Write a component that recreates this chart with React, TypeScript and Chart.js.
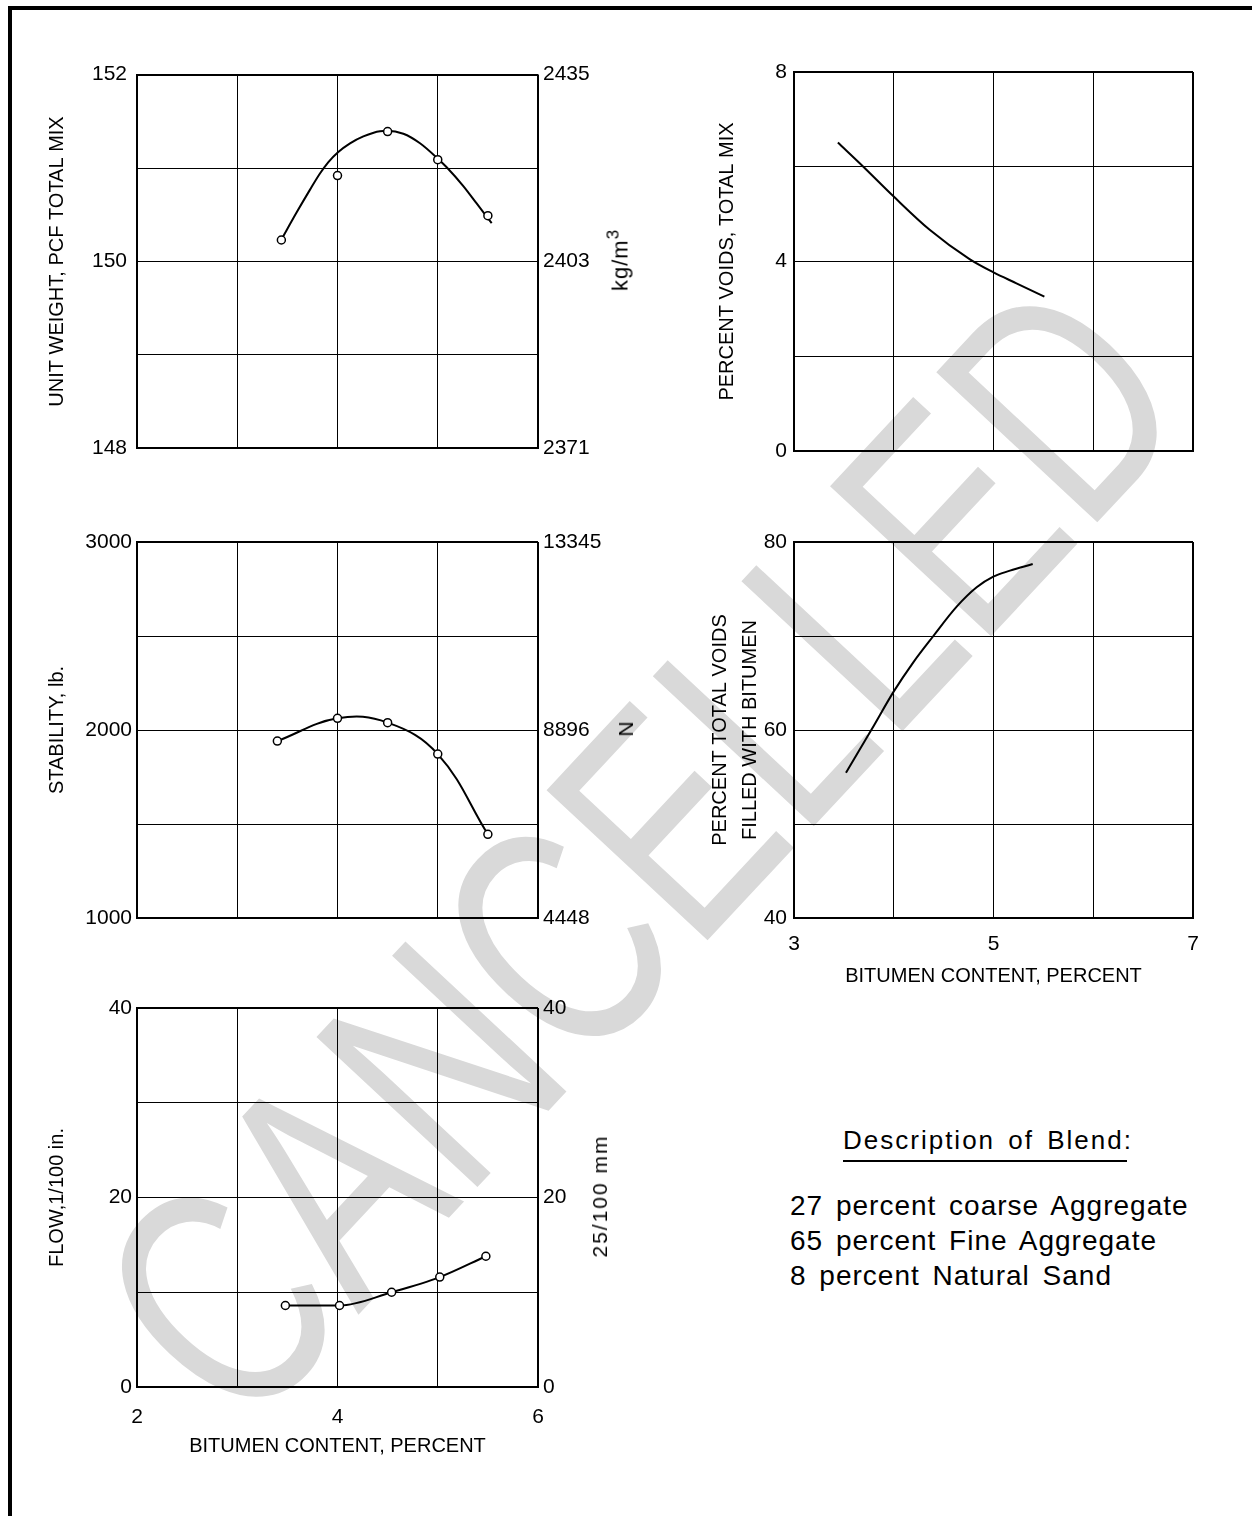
import React, { useEffect, useRef } from 'react';
import { Chart, registerables } from 'chart.js';

Chart.register(...registerables);

const FONT = "'Liberation Sans', Arial, Helvetica, sans-serif";

// ---------- bitumen content (x) axes ----------
const xTicksLeft = [2, 3, 4, 5, 6];
const xLabelsLeft = ['2', '', '4', '', '6'];
const xTicksRight = [3, 4, 5, 6, 7];
const xLabelsRight = ['3', '', '5', '', '7'];

// ---------- unit weight ----------
const unitWeightTicks = [148, 149, 150, 151, 152];
const unitWeightLabels = ['148', '', '150', '', '152'];
const unitWeightMetricTicks = [2371, 2403, 2435];
const unitWeightPtsX = [3.44, 4.0, 4.5, 5.0, 5.5];
const unitWeightPtsY = [150.23, 150.92, 151.39, 151.09, 150.49];
const unitWeightCurveX = [3.44, 3.593, 3.726, 3.825, 3.909, 4.005, 4.125, 4.258, 4.424, 4.49, 4.657, 4.823, 5.012, 5.089, 5.255, 5.388, 5.538];
const unitWeightCurveY = [150.234, 150.526, 150.769, 150.941, 151.064, 151.17, 151.265, 151.339, 151.395, 151.398, 151.367, 151.265, 151.089, 151.008, 150.807, 150.621, 150.41];

// ---------- stability ----------
const stabilityTicks = [1000, 1500, 2000, 2500, 3000];
const stabilityLabels = ['1000', '', '2000', '', '3000'];
const stabilityMetricTicks = [4448, 8896, 13345];
const stabilityX = [3.4, 4.0, 4.5, 5.0, 5.5];
const stabilityY = [1941, 2062, 2039, 1872, 1445];

// ---------- flow ----------
const flowTicks = [0, 10, 20, 30, 40];
const flowLabels = ['0', '', '20', '', '40'];
const flowMetricTicks = [0, 20, 40];
const flowX = [3.48, 4.02, 4.54, 5.02, 5.48];
const flowY = [8.6, 8.6, 10.0, 11.6, 13.8];

// ---------- percent voids ----------
const voidsTicks = [0, 2, 4, 6, 8];
const voidsLabels = ['0', '', '4', '', '8'];
const voidsCurveX = [3.44, 3.7, 4.0, 4.36, 4.76, 5.0, 5.23, 5.51];
const voidsCurveY = [6.51, 5.99, 5.37, 4.67, 4.05, 3.77, 3.54, 3.26];

// ---------- voids filled with bitumen ----------
const vfbTicks = [40, 50, 60, 70, 80];
const vfbLabels = ['40', '', '60', '', '80'];
const vfbCurveX = [3.521, 3.779, 3.999, 4.196, 4.397, 4.631, 4.831, 4.998, 5.165, 5.393];
const vfbCurveY = [55.46, 60.07, 64.08, 67.2, 70.0, 73.12, 75.18, 76.31, 76.95, 77.66];

const blendLines = ['27 percent coarse Aggregate', '65 percent Fine Aggregate', '8 percent Natural Sand'];

const zip = (xs: number[], ys: number[]) => xs.map((x, i) => ({ x, y: ys[i] }));

const curveDs = (xs: number[], ys: number[]) => ({
  data: zip(xs, ys),
  showLine: true,
  borderColor: '#000',
  borderWidth: 2,
  pointRadius: 0,
  cubicInterpolationMode: 'monotone',
  fill: false,
  yAxisID: 'y',
});

const pointDs = (xs: number[], ys: number[], line: boolean, extra: any = {}) => ({
  data: zip(xs, ys),
  showLine: line,
  borderColor: '#000',
  borderWidth: 2,
  pointRadius: 4,
  pointBorderWidth: 1.5,
  pointBackgroundColor: '#fff',
  pointBorderColor: '#000',
  tension: 0.4,
  fill: false,
  yAxisID: 'y',
  ...extra,
});

type Spec = {
  l: number; t: number; w: number; h: number;
  AL: number; AR: number; PT: number; AB: number; PB: number;
  xTicks: number[]; xLabels: string[]; showX: boolean; xTickPad?: number; xTitle?: string; xTitlePadB?: number;
  yTicks: number[]; yLabels: string[]; yTickPad: number; yTitle: string | string[]; yTitlePadT: number; yTitleLH?: number;
  rTicks?: number[]; rTickPad?: number;
  datasets: any[];
};

const edgeWidth = (n: number) => (c: any) => (c.index === 0 || c.index === n - 1 ? 2 : 1);

function buildConfig(s: Spec): any {
  const tickFont = { family: FONT, size: 21 };
  const titleFont = { family: FONT, size: 20, lineHeight: s.yTitleLH ?? 1.2 };
  const scales: any = {
    x: {
      type: 'linear',
      position: 'bottom',
      min: s.xTicks[0],
      max: s.xTicks[s.xTicks.length - 1],
      afterBuildTicks: (a: any) => { a.ticks = s.xTicks.map((v) => ({ value: v })); },
      afterFit: (a: any) => { a.height = s.AB; },
      grid: { color: '#000', lineWidth: edgeWidth(s.xTicks.length), drawTicks: false },
      border: { display: true, color: '#000', width: 2 },
      ticks: {
        display: s.showX,
        padding: s.xTickPad ?? 0,
        font: tickFont,
        color: '#000',
        autoSkip: false,
        maxRotation: 0,
        callback: (_v: any, i: number) => s.xLabels[i] ?? '',
      },
      title: s.xTitle
        ? { display: true, text: s.xTitle, color: '#000', font: { family: FONT, size: 20, lineHeight: 1.2 }, padding: { top: 0, bottom: s.xTitlePadB ?? 0 } }
        : { display: false },
    },
    y: {
      type: 'linear',
      position: 'left',
      min: s.yTicks[0],
      max: s.yTicks[s.yTicks.length - 1],
      afterBuildTicks: (a: any) => { a.ticks = s.yTicks.map((v) => ({ value: v })); },
      afterFit: (a: any) => { a.width = s.AL; },
      grid: { color: '#000', lineWidth: edgeWidth(s.yTicks.length), drawTicks: false },
      border: { display: true, color: '#000', width: 2 },
      ticks: {
        padding: s.yTickPad,
        font: tickFont,
        color: '#000',
        autoSkip: false,
        callback: (_v: any, i: number) => s.yLabels[i] ?? '',
      },
      title: { display: true, text: s.yTitle, color: '#000', font: titleFont, padding: { top: s.yTitlePadT, bottom: 0 } },
    },
  };
  if (s.rTicks) {
    const rt = s.rTicks;
    scales.y1 = {
      type: 'linear',
      position: 'right',
      min: rt[0],
      max: rt[rt.length - 1],
      afterBuildTicks: (a: any) => { a.ticks = rt.map((v) => ({ value: v })); },
      afterFit: (a: any) => { a.width = s.AR; },
      grid: { display: false, drawTicks: false },
      border: { display: false },
      ticks: {
        padding: s.rTickPad ?? 5,
        font: tickFont,
        color: '#000',
        autoSkip: false,
        callback: (v: any) => String(v),
      },
    };
  }
  return {
    type: 'scatter',
    data: { datasets: s.datasets },
    options: {
      responsive: false,
      maintainAspectRatio: false,
      animation: false,
      events: [],
      layout: { padding: { top: s.PT, bottom: s.PB, left: 0, right: s.rTicks ? 0 : s.AR } },
      plugins: { legend: { display: false }, tooltip: { enabled: false }, title: { display: false } },
      scales,
    },
  };
}

function Panel({ spec }: { spec: Spec }) {
  const ref = useRef<HTMLCanvasElement | null>(null);
  const W = spec.AL + spec.w + spec.AR;
  const H = spec.PT + spec.h + spec.AB + spec.PB;
  useEffect(() => {
    if (!ref.current) return;
    const chart = new Chart(ref.current, buildConfig(spec));
    return () => chart.destroy();
  }, []);
  return (
    <canvas
      ref={ref}
      width={W}
      height={H}
      style={{ position: 'absolute', left: spec.l - spec.AL, top: spec.t - spec.PT, width: W, height: H, zIndex: 1 }}
    />
  );
}

const specUnitWeight: Spec = {
  l: 137, t: 72, w: 401, h: 379, AL: 100, AR: 100, PT: 20, AB: 0, PB: 20,
  xTicks: xTicksLeft, xLabels: xLabelsLeft, showX: false,
  yTicks: unitWeightTicks, yLabels: unitWeightLabels, yTickPad: 10, yTitle: 'UNIT WEIGHT, PCF TOTAL MIX', yTitlePadT: 8,
  rTicks: unitWeightMetricTicks, rTickPad: 5,
  datasets: [pointDs(unitWeightPtsX, unitWeightPtsY, false), curveDs(unitWeightCurveX, unitWeightCurveY)],
};

const specStability: Spec = {
  l: 137, t: 542, w: 401, h: 376, AL: 100, AR: 100, PT: 20, AB: 0, PB: 20,
  xTicks: xTicksLeft, xLabels: xLabelsLeft, showX: false,
  yTicks: stabilityTicks, yLabels: stabilityLabels, yTickPad: 5, yTitle: 'STABILITY, lb.', yTitlePadT: 8,
  rTicks: stabilityMetricTicks, rTickPad: 5,
  datasets: [pointDs(stabilityX, stabilityY, true)],
};

const specFlow: Spec = {
  l: 137, t: 1008, w: 401, h: 379, AL: 100, AR: 100, PT: 20, AB: 80, PB: 10,
  xTicks: xTicksLeft, xLabels: xLabelsLeft, showX: true, xTickPad: 18, xTitle: 'BITUMEN CONTENT, PERCENT', xTitlePadB: 9,
  yTicks: flowTicks, yLabels: flowLabels, yTickPad: 5, yTitle: 'FLOW,1/100 in.', yTitlePadT: 8,
  rTicks: flowMetricTicks, rTickPad: 5,
  datasets: [pointDs(flowX, flowY, true, { cubicInterpolationMode: 'monotone' })],
};

const specVoids: Spec = {
  l: 794, t: 72, w: 399, h: 379, AL: 100, AR: 30, PT: 20, AB: 0, PB: 20,
  xTicks: xTicksRight, xLabels: xLabelsRight, showX: false,
  yTicks: voidsTicks, yLabels: voidsLabels, yTickPad: 7, yTitle: 'PERCENT VOIDS, TOTAL MIX', yTitlePadT: 21,
  datasets: [curveDs(voidsCurveX, voidsCurveY)],
};

const specVfb: Spec = {
  l: 794, t: 542, w: 399, h: 376, AL: 100, AR: 30, PT: 20, AB: 75, PB: 10,
  xTicks: xTicksRight, xLabels: xLabelsRight, showX: true, xTickPad: 14, xTitle: 'BITUMEN CONTENT, PERCENT', xTitlePadB: 5,
  yTicks: vfbTicks, yLabels: vfbLabels, yTickPad: 7, yTitle: ['PERCENT TOTAL VOIDS', 'FILLED WITH BITUMEN'], yTitlePadT: 11, yTitleLH: 1.5,
  datasets: [curveDs(vfbCurveX, vfbCurveY)],
};

const rot = (cx: number, cy: number, extra: any = {}): React.CSSProperties => ({
  position: 'absolute',
  left: cx,
  top: cy,
  transform: 'translate(-50%, -50%) rotate(-90deg)',
  whiteSpace: 'nowrap',
  fontFamily: FONT,
  fontSize: 21,
  lineHeight: '24px',
  color: '#000',
  zIndex: 2,
  ...extra,
});

export default function App() {
  return (
    <div style={{ position: 'absolute', left: 0, top: 0, width: 1252, height: 1516, overflow: 'hidden', background: '#fff', fontFamily: FONT }}>
      {/* watermark */}
      <div
        style={{
          position: 'absolute',
          left: 640,
          top: 850,
          transform: 'translate(-50%, -50%) rotate(-47deg) scaleX(0.73)',
          fontFamily: FONT,
          fontSize: 320,
          lineHeight: 1,
          color: '#d9d9d9',
          whiteSpace: 'nowrap',
          zIndex: 0,
        }}
      >
        CANCELLED
      </div>

      {/* frame */}
      <div style={{ position: 'absolute', left: 8, top: 6, width: 1244, height: 4, background: '#000', zIndex: 2 }} />
      <div style={{ position: 'absolute', left: 8, top: 6, width: 4, height: 1510, background: '#000', zIndex: 2 }} />

      <Panel spec={specUnitWeight} />
      <Panel spec={specStability} />
      <Panel spec={specFlow} />
      <Panel spec={specVoids} />
      <Panel spec={specVfb} />

      {/* metric axis titles */}
      <div style={rot(617, 260, { fontSize: 22, letterSpacing: 1 })}>
        kg/m<span style={{ fontSize: 17, verticalAlign: 9 }}>3</span>
      </div>
      <div style={rot(626, 729)}>N</div>
      <div style={rot(600, 1196, { letterSpacing: 2 })}>25/100 mm</div>

      {/* description of blend */}
      <div style={{ position: 'absolute', left: 843, top: 1125, fontSize: 26, lineHeight: '30px', letterSpacing: 2, wordSpacing: 4, whiteSpace: 'nowrap', zIndex: 2 }}>
        Description of Blend:
      </div>
      <div style={{ position: 'absolute', left: 843, top: 1160, width: 284, height: 2, background: '#000', zIndex: 2 }} />
      <div style={{ position: 'absolute', left: 790, top: 1188, fontSize: 28, lineHeight: '35px', letterSpacing: 1, wordSpacing: 4, whiteSpace: 'nowrap', zIndex: 2 }}>
        {blendLines.map((t) => (
          <div key={t}>{t}</div>
        ))}
      </div>
    </div>
  );
}
